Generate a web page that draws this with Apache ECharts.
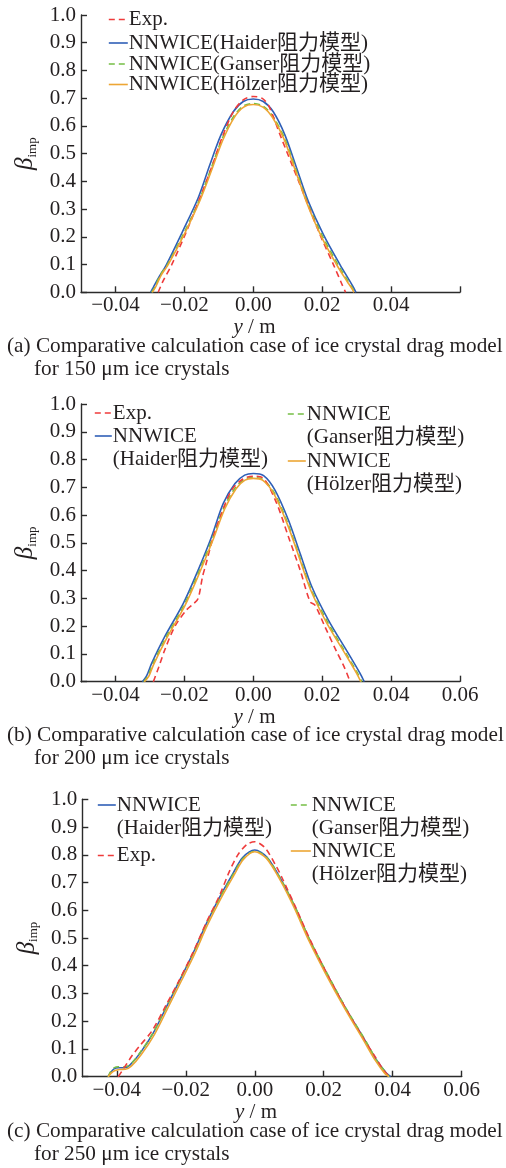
<!DOCTYPE html>
<html>
<head>
<meta charset="utf-8">
<script src="https://cdn.jsdelivr.net/npm/echarts@6/dist/echarts.min.js"></script>
<style>
  html, body { margin: 0; padding: 0; background: #fff; }
  #chart { width: 506px; height: 1168px; }
</style>
</head>
<body>
<div id="chart"></div>
<script>
// Impingement efficiency profiles beta_imp(y) for three ice-crystal sizes

const seriesNames = ['Exp.', 'NNWICE(Haider阻力模型)', 'NNWICE(Ganser阻力模型)', 'NNWICE(Hölzer阻力模型)'];

const xTickValues = [-0.04, -0.02, 0, 0.02, 0.04, 0.06];
const xLabelValuesA = [-0.04, -0.02, 0, 0.02, 0.04];
const xLabelValuesBC = [-0.04, -0.02, 0, 0.02, 0.04, 0.06];

const captionsA = ['(a) Comparative calculation case of ice crystal drag model', 'for 150 μm ice crystals'];
const captionsB = ['(b) Comparative calculation case of ice crystal drag model', 'for 200 μm ice crystals'];
const captionsC = ['(c) Comparative calculation case of ice crystal drag model', 'for 250 μm ice crystals'];

// (a) 150 μm
const expA = [[-0.0276,0],[-0.0262,0.04],[-0.0237,0.099],[-0.0194,0.219],[-0.0155,0.34],[-0.0122,0.447],[-0.009,0.56],[-0.0058,0.651],[-0.0028,0.695],[0,0.706],[0.0025,0.70],[0.0045,0.672],[0.0078,0.567],[0.0136,0.387],[0.0194,0.207],[0.0233,0.099],[0.0257,0.03],[0.0268,0]];
const haiderA = [[-0.0298,0],[-0.029,0.018],[-0.0276,0.05],[-0.0252,0.10],[-0.0205,0.22],[-0.016,0.34],[-0.0126,0.46],[-0.0094,0.567],[-0.0058,0.651],[-0.0029,0.688],[0,0.697],[0.0029,0.688],[0.0058,0.651],[0.0092,0.567],[0.0126,0.447],[0.016,0.327],[0.0204,0.207],[0.0252,0.099],[0.0278,0.045],[0.0292,0.015],[0.0298,0]];
const ganserA = [[-0.0295,0],[-0.0285,0.02],[-0.027,0.062],[-0.0249,0.10],[-0.0202,0.212],[-0.0157,0.332],[-0.0123,0.445],[-0.009,0.555],[-0.0056,0.636],[-0.0028,0.672],[0,0.681],[0.0028,0.672],[0.0056,0.636],[0.009,0.558],[0.0124,0.442],[0.0158,0.322],[0.0201,0.202],[0.0248,0.095],[0.0275,0.04],[0.029,0.01],[0.0294,0]];
const holzerA = [[-0.0293,0],[-0.0283,0.02],[-0.0268,0.06],[-0.0247,0.10],[-0.02,0.21],[-0.0155,0.33],[-0.0121,0.44],[-0.0088,0.55],[-0.0055,0.631],[-0.0028,0.668],[0,0.677],[0.0028,0.668],[0.0055,0.632],[0.0088,0.556],[0.0122,0.44],[0.0156,0.32],[0.0198,0.20],[0.0245,0.093],[0.0272,0.04],[0.0288,0.01],[0.0292,0]];

// (b) 200 μm
const expB = [[-0.029,0],[-0.0275,0.05],[-0.0257,0.114],[-0.0228,0.198],[-0.0194,0.258],[-0.0174,0.28],[-0.016,0.30],[-0.0147,0.38],[-0.0138,0.42],[-0.0116,0.522],[-0.0092,0.606],[-0.0063,0.69],[-0.003,0.73],[0,0.74],[0.003,0.732],[0.0068,0.642],[0.0102,0.522],[0.0136,0.402],[0.0165,0.288],[0.0179,0.276],[0.0208,0.198],[0.0242,0.108],[0.0265,0.05],[0.0281,0]];
const haiderB = [[-0.0322,0],[-0.031,0.02],[-0.0295,0.066],[-0.0257,0.162],[-0.0203,0.282],[-0.016,0.402],[-0.0121,0.522],[-0.0087,0.642],[-0.0053,0.714],[-0.0025,0.744],[0,0.75],[0.003,0.742],[0.0063,0.69],[0.0102,0.582],[0.0136,0.462],[0.017,0.342],[0.0218,0.222],[0.0276,0.102],[0.031,0.03],[0.0322,0]];
const ganserB = [[-0.0318,0],[-0.0306,0.02],[-0.0292,0.062],[-0.0254,0.158],[-0.02,0.278],[-0.0157,0.398],[-0.0119,0.515],[-0.0085,0.628],[-0.0051,0.70],[-0.0024,0.729],[0,0.735],[0.0028,0.728],[0.0061,0.68],[0.0099,0.574],[0.0133,0.455],[0.0167,0.336],[0.0215,0.216],[0.027,0.10],[0.0303,0.03],[0.0315,0]];
const holzerB = [[-0.0316,0],[-0.0303,0.02],[-0.029,0.06],[-0.0252,0.155],[-0.0198,0.275],[-0.0155,0.395],[-0.0117,0.51],[-0.0083,0.622],[-0.005,0.695],[-0.0024,0.726],[0,0.732],[0.0028,0.725],[0.006,0.676],[0.0098,0.57],[0.0132,0.452],[0.0166,0.332],[0.0213,0.212],[0.0268,0.098],[0.03,0.03],[0.0312,0]];

// (c) 250 μm
const expC = [[-0.0396,0],[-0.0385,0.02],[-0.0372,0.045],[-0.0355,0.077],[-0.0333,0.112],[-0.0298,0.165],[-0.0258,0.256],[-0.0218,0.35],[-0.0179,0.448],[-0.014,0.557],[-0.0101,0.656],[-0.0077,0.73],[-0.005,0.798],[-0.0022,0.838],[0,0.847],[0.0029,0.826],[0.0063,0.757],[0.0078,0.72],[0.0117,0.615],[0.016,0.495],[0.0209,0.372],[0.0262,0.25],[0.0319,0.13],[0.0348,0.074],[0.0372,0.026],[0.0391,0]];
const haiderC = [[-0.0425,0],[-0.0418,0.015],[-0.0408,0.028],[-0.0395,0.032],[-0.0377,0.032],[-0.0362,0.042],[-0.0333,0.084],[-0.0295,0.156],[-0.0256,0.252],[-0.0217,0.349],[-0.0179,0.445],[-0.014,0.553],[-0.0101,0.649],[-0.0063,0.733],[-0.0035,0.79],[0,0.817],[0.0035,0.792],[0.0077,0.709],[0.0116,0.613],[0.0159,0.493],[0.0208,0.373],[0.0261,0.252],[0.0319,0.132],[0.0353,0.06],[0.0382,0.012],[0.0394,0]];
const ganserC = [[-0.0425,0],[-0.0418,0.018],[-0.0408,0.032],[-0.0395,0.036],[-0.0377,0.036],[-0.036,0.045],[-0.0332,0.088],[-0.0294,0.16],[-0.0255,0.256],[-0.0216,0.352],[-0.0178,0.446],[-0.0139,0.553],[-0.01,0.648],[-0.0062,0.73],[-0.0034,0.786],[0,0.813],[0.0035,0.79],[0.0077,0.708],[0.0117,0.612],[0.016,0.492],[0.021,0.372],[0.0263,0.25],[0.0321,0.13],[0.0354,0.058],[0.038,0.015],[0.039,0]];
const holzerC = [[-0.0425,0],[-0.0417,0.012],[-0.0405,0.022],[-0.0392,0.026],[-0.0375,0.027],[-0.0358,0.038],[-0.0329,0.08],[-0.0291,0.152],[-0.0252,0.248],[-0.0213,0.345],[-0.0175,0.441],[-0.0137,0.547],[-0.0098,0.643],[-0.0061,0.725],[-0.0033,0.783],[0,0.811],[0.0034,0.787],[0.0075,0.706],[0.0114,0.61],[0.0157,0.49],[0.0206,0.37],[0.0259,0.25],[0.0316,0.13],[0.035,0.058],[0.0377,0.012],[0.0389,0]];

const FONT = "'Liberation Serif', 'Times New Roman', 'Noto Sans CJK SC', serif";
const TEXT = '#231f20';
const AXIS = '#2b2b2b';

const styles = {
  'Exp.': { color: '#ef3b3b', type: [6, 4] },
  'NNWICE(Haider阻力模型)': { color: '#2f5fb7', type: 'solid' },
  'NNWICE(Ganser阻力模型)': { color: '#76bf45', type: [6, 4] },
  'NNWICE(Hölzer阻力模型)': { color: '#eda634', type: 'solid' }
};

const panels = [
  { grid: { left: 81, top: 15, width: 379, height: 277.3 }, labels: xLabelValuesA,
    data: [expA, haiderA, ganserA, holzerA], captions: captionsA, capY: [347, 370] },
  { grid: { left: 81, top: 404, width: 379, height: 277.7 }, labels: xLabelValuesBC,
    data: [expB, haiderB, ganserB, holzerB], captions: captionsB, capY: [736.5, 759.5] },
  { grid: { left: 82.3, top: 799.3, width: 379.4, height: 277.4 }, labels: xLabelValuesBC,
    data: [expC, haiderC, ganserC, holzerC], captions: captionsC, capY: [1132, 1155] }
];

const fmtX = v => (v < 0 ? '\u2212' : '') + Math.abs(v).toFixed(2);

const grid = [], xAxis = [], yAxis = [], series = [], graphic = [];
panels.forEach((p, i) => {
  grid.push(Object.assign({ containLabel: false }, p.grid));
  xAxis.push({
    type: 'value', gridIndex: i, min: -0.05, max: 0.06,
    axisLine: { onZero: false, lineStyle: { color: AXIS, width: 1.4 } },
    axisTick: { inside: true, length: 6, customValues: xTickValues, lineStyle: { color: AXIS, width: 1.4 } },
    axisLabel: { customValues: p.labels, formatter: fmtX, margin: 3, color: TEXT, fontFamily: FONT, fontSize: 21 },
    splitLine: { show: false },
    name: '{i|y} / m', nameLocation: 'middle', nameGap: 16,
    nameTextStyle: {
      color: TEXT, fontFamily: FONT, fontSize: 21, padding: [0, 32, 0, 0],
      rich: { i: { fontFamily: FONT, fontSize: 21, fontStyle: 'italic', color: TEXT } }
    }
  });
  yAxis.push({
    type: 'value', gridIndex: i, min: 0, max: 1, interval: 0.1,
    axisLine: { show: true, onZero: false, lineStyle: { color: AXIS, width: 1.4 } },
    axisTick: { show: true, inside: true, length: 6, lineStyle: { color: AXIS, width: 1.4 } },
    axisLabel: { formatter: v => v.toFixed(1), margin: 5, color: TEXT, fontFamily: FONT, fontSize: 21 },
    splitLine: { show: false },
    name: '{b|β}{s|imp}', nameLocation: 'middle', nameGap: 31,
    nameTextStyle: {
      color: TEXT,
      rich: {
        b: { fontFamily: FONT, fontSize: 25, fontStyle: 'italic', color: TEXT, lineHeight: 26 },
        s: { fontFamily: FONT, fontSize: 13, color: TEXT, verticalAlign: 'bottom', lineHeight: 14 }
      }
    }
  });
  seriesNames.forEach((name, k) => {
    const st = styles[name];
    series.push({
      type: 'line', name, xAxisIndex: i, yAxisIndex: i,
      data: p.data[k], showSymbol: false, symbol: 'none',
      smooth: 0.3,
      z: k === 0 ? 5 : 2 + k,
      lineStyle: { color: st.color, width: 1.6, type: st.type },
      itemStyle: { color: st.color }
    });
  });
  p.captions.forEach((t, j) => {
    graphic.push({
      type: 'text', left: j === 0 ? 7 : 34, top: p.capY[j] - 11.5,
      style: { text: t, fill: TEXT, font: '21.25px ' + FONT }
    });
  });
});

// one legend component per entry so each can be placed freely;
// two-line entries get a blank leading line so the key sits beside the first line
function legendItem(name, text, left, top, lh, iconW) {
  const lines = text.split('\n');
  const shown = lines.length === 2 ? ' \n' + text : text;
  return {
    data: [name], left, top, padding: 0, itemWidth: iconW, itemHeight: 10, itemGap: 0,
    selectedMode: false, formatter: shown,
    lineStyle: { width: 1.6 },
    itemStyle: { color: 'rgba(0,0,0,0)', borderWidth: 0, opacity: 0 },
    textStyle: {
      color: TEXT, fontFamily: FONT, fontSize: 21, lineHeight: lh,
      padding: [0, 0, 0, -4]
    }
  };
}

const legend = [
  // (a)
  legendItem('Exp.', 'Exp.', 108, 19.5 - 10.5, 21, 19),
  legendItem('NNWICE(Haider阻力模型)', 'NNWICE(Haider阻力模型)', 108, 43 - 10.5, 21, 19),
  legendItem('NNWICE(Ganser阻力模型)', 'NNWICE(Ganser阻力模型)', 108, 64 - 10.5, 21, 19),
  legendItem('NNWICE(Hölzer阻力模型)', 'NNWICE(Hölzer阻力模型)', 108, 84.5 - 10.5, 21, 19),
  // (b)
  legendItem('Exp.', 'Exp.', 94, 413 - 11.75, 23.5, 17),
  legendItem('NNWICE(Haider阻力模型)', 'NNWICE\n(Haider阻力模型)', 94, 436 - 35.25, 23.5, 17),
  legendItem('NNWICE(Ganser阻力模型)', 'NNWICE\n(Ganser阻力模型)', 287, 414 - 35.25, 23.5, 18),
  legendItem('NNWICE(Hölzer阻力模型)', 'NNWICE\n(Hölzer阻力模型)', 287, 461 - 35.25, 23.5, 18),
  // (c)
  legendItem('NNWICE(Haider阻力模型)', 'NNWICE\n(Haider阻力模型)', 97, 805 - 34.5, 23, 18),
  legendItem('Exp.', 'Exp.', 97, 855.5 - 11.5, 23, 18),
  legendItem('NNWICE(Ganser阻力模型)', 'NNWICE\n(Ganser阻力模型)', 290, 805 - 34.5, 23, 20),
  legendItem('NNWICE(Hölzer阻力模型)', 'NNWICE\n(Hölzer阻力模型)', 290, 851 - 34.5, 23, 20)
];

const chart = echarts.init(document.getElementById('chart'), null, { renderer: 'canvas' });
chart.setOption({
  animation: false,
  backgroundColor: '#fff',
  textStyle: { fontFamily: FONT },
  grid, xAxis, yAxis, series, legend, graphic
});
</script>
</body>
</html>
